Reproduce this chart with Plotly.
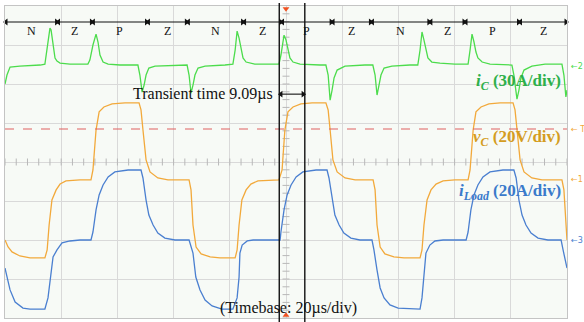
import numpy as np
import plotly.graph_objects as go

# ---------------- data (time in µs, values in physical units) ----------------
TIMEBASE_US_PER_DIV = 20
N_XDIV, N_YDIV = 10, 8

# capacitor voltage vC [V]
vc_t = [0, 1.1, 2.5, 5.3, 8.9, 14.2, 15.0, 15.7, 16.7, 18.2, 19.6, 21.7, 26.7, 30.6,
        31.3, 32.4, 33.5, 35.2, 38.1, 42.7, 47.7, 48.4, 49.1, 50.2, 51.6, 54.4, 58.0,
        65.5, 66.2, 66.9, 68.0, 69.8, 73.0, 76.5, 81.9, 82.6, 83.3, 84.3, 85.8, 87.5,
        90.0, 94.3, 97.5, 98.6, 99.6, 100.7, 102.5, 105.3, 109.3, 114.2, 115.0, 115.7,
        116.7, 118.2, 121.0, 124.6, 131.0, 131.7, 132.4, 133.5, 135.2, 138.4, 142.0,
        147.7, 148.4, 149.1, 150.2, 151.6, 153.4, 155.9, 160.1, 164.8, 165.5, 166.6,
        167.6, 169.4, 172.2, 176.2, 180.8, 181.5, 182.2, 183.3, 184.7, 187.5, 191.1,
        198.2, 198.9, 199.6, 200]
vc_v = [-30.8, -34.4, -36.9, -39.0, -40, -40, -35.9, -23.1, -10.3, -5.1, -2.1, -0.5, 0, 0,
        5.1, 25.6, 34.9, 37.4, 39.0, 39.5, 39.5, 35.9, 25.6, 10.3, 4.1, 1.0, 0,
        0, -5.1, -23.1, -34.4, -37.9, -39.5, -40, -40, -35.9, -23.1, -10.3, -5.1, -2.1,
        -0.5, 0, 0, 5.1, 25.6, 34.9, 37.4, 39.0, 39.5, 39.5, 35.9, 25.6,
        10.3, 4.1, 1.0, 0, 0, -5.1, -23.1, -34.4, -37.9, -39.5, -40,
        -40, -35.9, -23.1, -10.3, -5.1, -2.1, -0.5, 0, 0, 5.1, 25.6,
        34.9, 37.4, 39.0, 39.5, 39.5, 35.9, 25.6, 10.3, 4.1, 1.0, 0,
        0, -5.1, -23.1, -30.8]

# load current iLoad [A]
il_t = [0, 1.8, 3.6, 6.4, 8.9, 14.2, 15.3, 16.0, 17.1, 18.5, 20.3, 23.1, 26.7, 30.6,
        31.3, 32.4, 33.5, 34.9, 36.7, 39.1, 43.8, 48.4, 49.1, 50.2, 51.2, 52.7, 54.4,
        56.9, 60.5, 65.5, 66.9, 67.9, 69.4, 71.2, 73.7, 77.2, 81.1, 82.6, 83.3, 83.6,
        84.4, 86.2, 88.3, 93.2, 97.9, 98.2, 99.3, 100.4, 101.8, 103.6, 106.0, 110.7,
        114.6, 115.3, 116.4, 117.4, 118.9, 120.6, 123.1, 126.3, 130.6, 131.3, 132.4,
        133.5, 134.9, 137.0, 139.9, 147.7, 148.4, 149.1, 149.8, 151.2, 153.0, 155.9,
        159.4, 164.1, 164.8, 165.8, 166.9, 168.3, 170.1, 172.6, 177.2, 181.1, 181.9,
        182.9, 184.0, 185.4, 187.2, 189.7, 193.2, 197.9, 198.6, 199.3, 200]
il_i = [-14.4, -25.6, -31.8, -34.9, -35.4, -35.4, -29.7, -20.5, -8.7, -5.1, -1.5, -0.5, 0, 0,
        4.1, 15.4, 23.1, 28.2, 32.3, 34.9, 35.9, 35.9, 31.8, 20.5, 12.8, 7.7, 3.6,
        1.0, 0, 0, -6.7, -19.0, -25.6, -30.8, -33.8, -35.4, -35.4, -29.7, -19.0, -6.7,
        -2.6, -0.5, 0, 0, 0, 4.1, 15.4, 23.1, 28.2, 32.3, 34.9, 35.9,
        35.9, 31.8, 20.5, 12.8, 7.7, 3.6, 1.0, 0, 0, -5.1, -15.4,
        -24.6, -29.7, -33.3, -34.9, -35.4, -29.7, -19.0, -6.7, -2.6, -0.5, 0,
        0, 0, 4.1, 15.4, 23.1, 28.2, 32.3, 34.9, 35.9, 35.9, 31.8,
        20.5, 12.8, 7.7, 3.6, 1.0, 0, 0, -5.1, -10.3, -14.4]

# capacitor current iC [A]
ic_t = [0, 0.7, 1.8, 5.3, 12.5, 14.2, 14.9, 15.7, 16.0, 16.4, 17.1, 17.8, 18.5, 19.6,
        23.1, 29.5, 30.2, 31.3, 32.4, 33.1, 33.8, 34.9, 36.7, 40.9, 47.3, 48.0, 48.8,
        49.5, 50.2, 51.2, 53.4, 60.5, 64.8, 65.5, 66.2, 66.9, 67.6, 68.7, 71.2, 78.3,
        81.1, 81.9, 82.6, 83.3, 84.0, 84.7, 85.8, 88.9, 94.3, 97.5, 98.2, 99.3, 100.0,
        100.7, 101.4, 102.5, 105.0, 112.1, 114.2, 115.0, 115.7, 116.4, 117.1, 118.2,
        121.0, 128.1, 130.9, 131.7, 132.4, 133.1, 133.8, 134.9, 137.7, 144.1, 146.9,
        147.7, 148.4, 149.1, 149.8, 150.5, 151.9, 154.8, 160.1, 164.8, 165.5, 166.2,
        166.9, 167.6, 168.3, 169.8, 172.6, 177.9, 180.4, 181.1, 182.2, 182.9, 183.6,
        184.7, 187.5, 192.2, 198.2, 198.9, 199.6, 200]
ic_i = [-13.8, -6.9, -0.8, 0, 0.8, 1.5, 12.3, 23.8, 29.2, 27.7, 16.2, 6.2, 3.8, 2.3,
        1.5, 1.5, 4.6, 16.2, 24.6, 18.5, 8.5, 3.1, 1.5, 0.8, 0.8, -6.9, -20.0,
        -14.6, -6.9, -1.5, 0, 0.8, 0.8, -6.9, -20.8, -14.6, -6.9, -1.5, 0, 0.8,
        1.5, 12.3, 26.9, 21.5, 12.3, 6.2, 3.1, 1.5, 1.5, 1.5, 8.5, 23.8, 20.0,
        12.3, 6.2, 3.1, 1.5, 0.8, 0.8, -6.9, -26.2, -18.5, -9.2, -3.1,
        0, 0.8, 0.8, -6.9, -22.3, -14.6, -6.9, -1.5, 0, 0.8, 0.8,
        12.3, 26.2, 20.0, 12.3, 6.2, 3.1, 2.3, 1.5, 1.5, 12.3, 24.6,
        18.5, 10.8, 6.2, 3.1, 1.5, 0.8, 0.8, -6.9, -25.4, -18.5, -9.2,
        -3.1, 0, 1.5, 1.5, -6.9, -23.8, -18.5]

# mode segments shown above the traces (boundaries in µs)
seg_bounds = [0, 18.7, 31.1, 50.7, 64.9, 84.9, 98.4, 116.4, 130.4, 151.2, 163.7, 183.1, 200]
seg_labels = ["N", "Z", "P", "Z", "N", "Z", "P", "Z", "N", "Z", "P", "Z"]

# cursors / trigger
cursor_t = [97.6, 106.69]
transient_us = 9.09
trigger_t = 100
trigger_level_div = 0.846

# channel settings: scale per div and zero offset (div)
ch = {
    "iC":    dict(scale=30, offset=2.46, color="#4cdc4c"),
    "vC":    dict(scale=20, offset=-0.46, color="#f2a93b"),
    "iLoad": dict(scale=20, offset=-2.0, color="#4a7fd0"),
}

SERIF = "Liberation Serif, Times New Roman, serif"

fig = go.Figure()

def rng(c):
    s, o = c["scale"], c["offset"]
    return [(-N_YDIV / 2 - o) * s, (N_YDIV / 2 - o) * s]

def dbl_arrows(spans, y, gap=0.35):
    xs, ys, sym = [], [], []
    for a, b in spans:
        xs += [a + gap, b - gap, None]
        ys += [y, y, None]
        sym += ["triangle-left", "triangle-right", "circle"]
    return go.Scatter(x=xs, y=ys, mode="lines+markers", line=dict(color="#111111", width=1.1),
                      marker=dict(symbol=sym, size=6, color="#111111"),
                      cliponaxis=False, hoverinfo="skip", showlegend=False)

# minor ticks along centre lines (decorative graticule)
fig.add_trace(go.Scatter(x=np.arange(0, 200.01, 4), y=np.zeros(51), mode="markers",
                         marker=dict(symbol="line-ns-open", size=5, color="#b8b8b8",
                                     line=dict(width=1, color="#b8b8b8")),
                         hoverinfo="skip", showlegend=False))
fig.add_trace(go.Scatter(x=np.full(41, 100.0), y=np.arange(-4, 4.01, 0.2), mode="markers",
                         marker=dict(symbol="line-ew-open", size=5, color="#b8b8b8",
                                     line=dict(width=1, color="#b8b8b8")),
                         hoverinfo="skip", showlegend=False))

fig.add_trace(go.Scatter(x=ic_t, y=ic_i, mode="lines", yaxis="y2",
                         line=dict(color=ch["iC"]["color"], width=1.3), showlegend=False))
fig.add_trace(go.Scatter(x=vc_t, y=vc_v, mode="lines", yaxis="y3",
                         line=dict(color=ch["vC"]["color"], width=1.3), showlegend=False))
fig.add_trace(go.Scatter(x=il_t, y=il_i, mode="lines", yaxis="y4",
                         line=dict(color=ch["iLoad"]["color"], width=1.3), showlegend=False))

# trigger markers
fig.add_trace(go.Scatter(x=[trigger_t, trigger_t], y=[3.93, -3.93], mode="markers",
                         marker=dict(symbol=["triangle-down", "triangle-up"], size=6,
                                     color="#f05020"),
                         cliponaxis=False, showlegend=False, hoverinfo="skip"))

# mode-segment arrows and transient-time arrow
fig.add_trace(dbl_arrows(list(zip(seg_bounds[:-1], seg_bounds[1:])), 3.59))
fig.add_trace(dbl_arrows([(cursor_t[0], cursor_t[1])], 1.74, gap=0.6))

shapes = []
shapes.append(dict(type="line", xref="x", yref="y", x0=0, x1=200,
                   y0=trigger_level_div, y1=trigger_level_div,
                   line=dict(color="#e06060", width=1.2, dash="dash")))
for ct in cursor_t:
    shapes.append(dict(type="line", xref="x", yref="paper", x0=ct, x1=ct, y0=-0.02, y1=1.01,
                       line=dict(color="#111111", width=1.4)))

annotations = []
for a, b, lab in zip(seg_bounds[:-1], seg_bounds[1:], seg_labels):
    annotations.append(dict(x=(a + b) / 2, y=3.36, xref="x", yref="y", text=lab,
                            showarrow=False, font=dict(family=SERIF, size=12, color="#111111")))

annotations.append(dict(x=96.2, y=1.74, xref="x", yref="y", xanchor="right",
                        text=f"Transient time {transient_us}µs", showarrow=False,
                        font=dict(family=SERIF, size=16, color="#111111")))
annotations.append(dict(x=75.8, y=-3.74, xref="x", yref="y", xanchor="left",
                        text=f"(Timebase: {TIMEBASE_US_PER_DIV}µs/div)", showarrow=False,
                        font=dict(family=SERIF, size=16, color="#111111")))

# channel labels
annotations.append(dict(x=198.6, y=2.05, xref="x", yref="y", xanchor="right",
                        text=f"<b><i>i</i><sub><i>C</i></sub> ({ch['iC']['scale']}A/div)</b>",
                        showarrow=False, font=dict(family=SERIF, size=17, color="#2eb04a")))
annotations.append(dict(x=198.6, y=0.615, xref="x", yref="y", xanchor="right",
                        text=f"<b><i>v</i><sub><i>C</i></sub> ({ch['vC']['scale']}V/div)</b>",
                        showarrow=False, font=dict(family=SERIF, size=17, color="#d49d1f")))
annotations.append(dict(x=198.6, y=-0.77, xref="x", yref="y", xanchor="right",
                        text=f"<b><i>i</i><sub><i>Load</i></sub> ({ch['iLoad']['scale']}A/div)</b>",
                        showarrow=False, font=dict(family=SERIF, size=17, color="#3a7acb")))

# channel markers on the right edge
for name, num in (("iC", "2"), ("vC", "1"), ("iLoad", "3")):
    annotations.append(dict(x=1.003, y=ch[name]["offset"], xref="paper", yref="y",
                            xanchor="left", text="←" + num, showarrow=False,
                            font=dict(family="DejaVu Sans", size=8, color=ch[name]["color"])))
annotations.append(dict(x=1.003, y=trigger_level_div, xref="paper", yref="y",
                        xanchor="left", text="← T", showarrow=False,
                        font=dict(family="DejaVu Sans", size=8, color=ch["vC"]["color"])))

fig.update_layout(
    width=584, height=322,
    margin=dict(l=5, r=17, t=6, b=4),
    paper_bgcolor="white", plot_bgcolor="#f7faf6",
    shapes=shapes, annotations=annotations,
    xaxis=dict(range=[0, TIMEBASE_US_PER_DIV * N_XDIV], dtick=TIMEBASE_US_PER_DIV,
               showgrid=True, gridcolor="#d9d9d9", gridwidth=1, zeroline=False,
               showticklabels=False, ticks="", showline=True, linecolor="#c4c4c4",
               mirror=True, fixedrange=True),
    yaxis=dict(range=[-N_YDIV / 2, N_YDIV / 2], dtick=1, showgrid=True,
               gridcolor="#d9d9d9", gridwidth=1, zeroline=False, showticklabels=False,
               ticks="", showline=True, linecolor="#c4c4c4", mirror=True, fixedrange=True),
    yaxis2=dict(range=rng(ch["iC"]), overlaying="y", visible=False, fixedrange=True),
    yaxis3=dict(range=rng(ch["vC"]), overlaying="y", visible=False, fixedrange=True),
    yaxis4=dict(range=rng(ch["iLoad"]), overlaying="y", visible=False, fixedrange=True),
)

fig.write_html("out.html")
